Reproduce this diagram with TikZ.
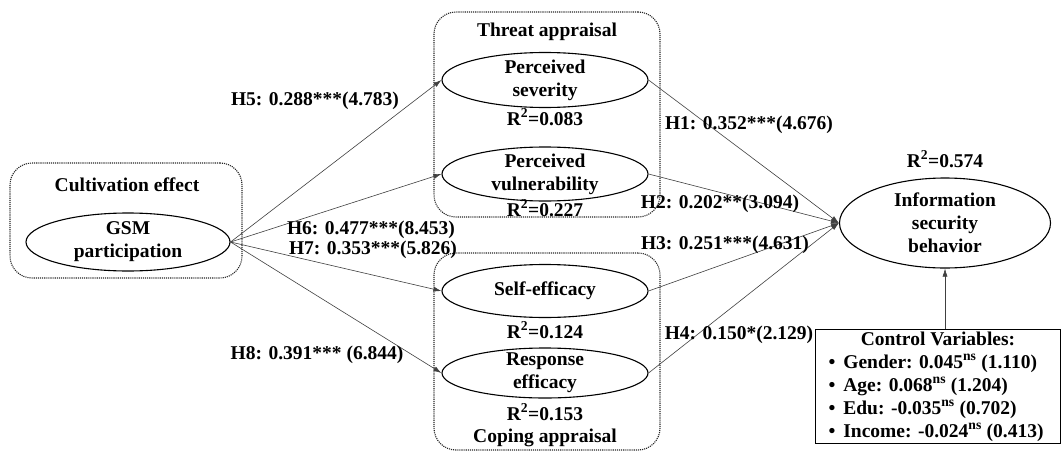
\documentclass[tikz,border=0pt]{standalone}
\usepackage{fontspec}
\setmainfont{Liberation Serif}
\usetikzlibrary{shapes.geometric,arrows.meta}
\begin{document}
\begin{tikzpicture}[x=1pt,y=-1pt,
  every node/.style={font=\fontsize{19.5}{23}\selectfont\bfseries},
  grp/.style={draw=black!85, densely dotted, line width=1.1pt, rounded corners=22pt, rectangle, inner sep=0pt},
  construct/.style={draw=black, line width=1.1pt, ellipse, inner xsep=0pt, inner ysep=-3pt, align=center},
  conn/.style={draw=black!75, line width=0.6pt, -{Latex[length=8pt,width=5pt]}},
  lbl/.style={inner sep=0pt}
]
\useasboundingbox[fill=white] (0,0) rectangle (1064,452);

% group boxes
\node[grp, minimum width=232pt, minimum height=115pt] (cult) at (126,220.5) {};
\node[grp, minimum width=226pt, minimum height=205pt] (threat) at (547,114.5) {};
\node[grp, minimum width=226pt, minimum height=197pt] (coping) at (547,351.5) {};

\node[lbl] (cultlbl) at (127,185) {Cultivation effect};
\node[lbl] (threatlbl) at (547,32) {Threat appraisal};
\node[lbl] (copinglbl) at (545,438) {Coping appraisal};

% constructs
\node[construct, minimum width=204pt, minimum height=58pt] (gsm) at (128,242) {GSM\\participation};
\node[construct, minimum width=206pt, minimum height=55pt] (ps) at (545,80) {Perceived\\severity};
\node[construct, minimum width=206pt, minimum height=54pt] (pv) at (545,174) {Perceived\\vulnerability};
\node[construct, minimum width=206pt, minimum height=53pt] (se) at (545,291) {Self-efficacy};
\node[construct, minimum width=206pt, minimum height=50pt] (re) at (545,373) {Response\\efficacy};
\node[construct, minimum width=211pt, minimum height=90pt, inner ysep=0pt] (isb) at (945,223) {Information\\security\\behavior};

% R squared
\node[lbl] (r1) at (545,117) {R\textsuperscript{2}=0.083};
\node[lbl] (r2) at (545,208) {R\textsuperscript{2}=0.227};
\node[lbl] (r3) at (545,330) {R\textsuperscript{2}=0.124};
\node[lbl] (r4) at (545,412) {R\textsuperscript{2}=0.153};
\node[lbl] (r5) at (945,159) {R\textsuperscript{2}=0.574};

% connectors
\draw[conn] (gsm.east) -- (ps.west);
\draw[conn] (gsm.east) -- (pv.west);
\draw[conn] (gsm.east) -- (se.west);
\draw[conn] (gsm.east) -- (re.west);
\draw[conn] (ps.east) -- (isb.west);
\draw[conn] (pv.east) -- (isb.west);
\draw[conn] (se.east) -- (isb.west);
\draw[conn] (re.east) -- (isb.west);

% path labels
\node[lbl] (h5) at (315,101) {H5: 0.288***(4.783)};
\node[lbl] (h6) at (371,230) {H6: 0.477***(8.453)};
\node[lbl] (h7) at (373,250) {H7: 0.353***(5.826)};
\node[lbl] (h8) at (317,355) {H8: 0.391*** (6.844)};
\node[lbl] (h1) at (749,125) {H1: 0.352***(4.676)};
\node[lbl] (h2) at (720,204) {H2: 0.202**(3.094)};
\node[lbl] (h3) at (725,245) {H3: 0.251***(4.631)};
\node[lbl] (h4) at (739,335) {H4: 0.150*(2.129)};

% control variables
\node[draw=black, line width=1pt, anchor=north west, inner xsep=13pt, inner ysep=2pt, align=left, fill=white] (ctrl) at (815,329)
 {\makebox[219pt]{Control Variables:}\\
  \textbullet\hspace{8pt}Gender: 0.045\textsuperscript{ns} (1.110)\\
  \textbullet\hspace{8pt}Age: 0.068\textsuperscript{ns} (1.204)\\
  \textbullet\hspace{8pt}Edu: -0.035\textsuperscript{ns} (0.702)\\
  \textbullet\hspace{8pt}Income: -0.024\textsuperscript{ns} (0.413)};
\draw[conn] (ctrl.north -| isb.south) -- (isb.south);
\end{tikzpicture}
\end{document}
